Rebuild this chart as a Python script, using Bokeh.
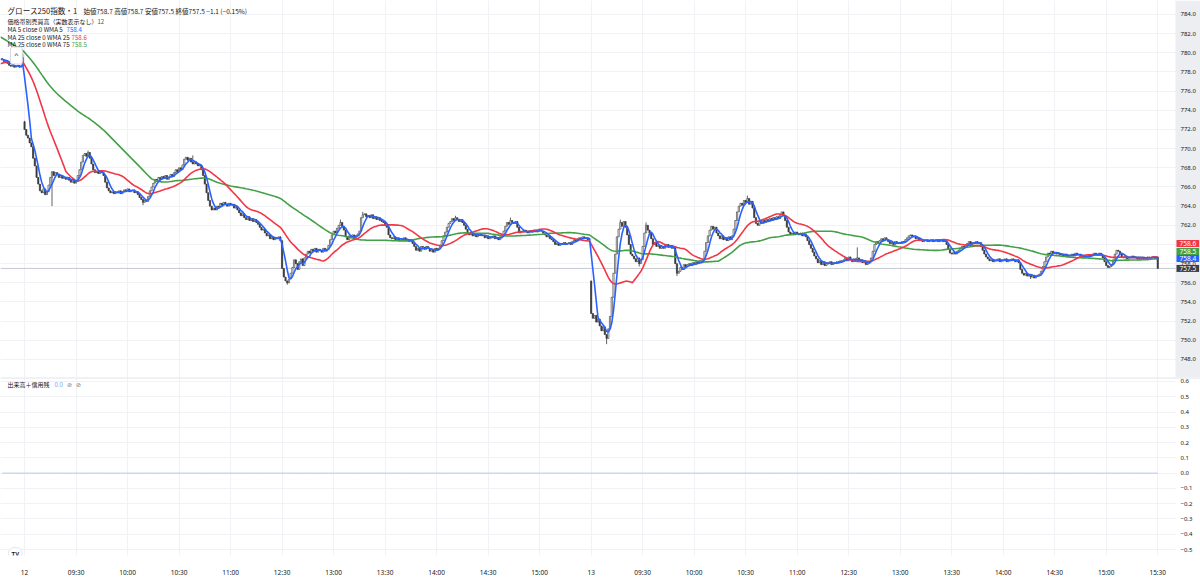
import numpy as np
import pandas as pd
from bokeh.plotting import figure
from bokeh.layouts import column
from bokeh.models import (ColumnDataSource, FixedTicker, Label, Span, Range1d, BoxAnnotation)
from bokeh.embed import file_html
from bokeh.resources import INLINE

# ---------------- data (1-minute closes) ----------------
# previous session (day 11) closes that are not on screen but feed the moving averages
prev_session_closes = [
    787.2, 787.0, 787.4, 787.1, 786.8, 787.0, 787.3, 786.9, 787.1, 786.8, 787.0, 786.6, 786.9,
    786.5, 786.7, 786.2, 786.4, 786.0, 785.8, 786.1, 785.6, 785.3, 785.5, 785.0, 784.8, 784.5, 784.6, 784.2,
    783.5, 782.8, 782.2, 781.5, 780.8, 780.0, 779.3, 778.8, 778.3, 778.0,
    777.8, 777.6, 777.9, 777.5, 777.7, 777.4, 777.8, 777.6, 777.9, 778.1,
    777.8, 778.0, 777.7, 778.1, 778.3, 778.0, 778.2, 778.4, 778.2, 778.5,
    778.7, 778.9, 779.2, 779.0, 779.3, 779.1, 779.4, 779.2, 779.0, 779.3,
    779.1, 779.4, 779.2, 779.5, 779.3, 779.1, 779.4,
]
day11_tail_closes = [779.3, 779.1, 779.2, 778.9, 778.7, 778.6, 778.7, 778.5, 778.6, 778.7, 778.5, 778.6, 779.5]
day12_am_closes = [
    772.0, 771.4, 771.1, 770.6, 770.2, 769.0, 768.2, 767.0, 766.3, 765.6,
    765.4, 765.8, 765.2, 765.5, 766.2, 767.0, 767.6, 767.2, 767.5, 767.3,
    767.0, 767.2, 766.9, 767.0, 766.8, 767.0, 766.7, 766.5, 766.8, 766.4,
    766.6, 767.2, 767.8, 768.6, 769.3, 769.5, 769.2, 769.6, 769.0, 768.4,
    767.8, 767.5, 767.6, 767.4, 767.7, 767.5, 767.2, 766.5, 765.9, 765.6,
    765.4, 765.5, 765.3, 765.5, 765.4, 765.6, 765.3, 765.5, 765.7, 765.6,
    765.8, 765.5, 765.6, 765.7, 765.4, 765.5, 765.2, 764.9, 764.7, 764.4,
    764.6, 764.5, 765.0, 765.6, 766.0, 766.4, 766.8, 766.6, 767.0, 766.8,
    767.1, 766.9, 767.2, 766.8, 767.0, 767.3, 767.1, 767.5, 767.8, 767.6,
    768.0, 767.8, 768.3, 768.9, 769.1, 768.8, 769.0, 768.6, 768.4, 768.6,
    768.4, 768.2, 768.3, 767.8, 767.2, 766.3, 765.4, 764.6, 764.0, 763.6,
    763.8, 763.6, 764.0, 763.9, 764.3, 764.1, 764.4, 764.2, 764.0, 764.3,
    764.1, 764.2, 763.8, 764.0, 763.6, 763.3, 763.0, 763.2, 762.8, 762.6,
    762.9, 762.5, 762.7, 762.4, 762.6, 762.3, 762.1, 761.8, 761.5, 761.6,
    761.2, 760.9, 761.0, 760.6, 760.8, 760.5, 760.7, 760.6, 760.8, 760.4,
]
day12_pm_closes = [
    757.5, 756.6, 756.2, 756.0, 756.4, 757.0, 757.6, 758.4, 758.0, 757.4,
    758.2, 758.5, 757.8, 758.6, 759.0, 759.3, 759.1, 759.5, 759.3, 759.6,
    759.2, 759.5, 759.4, 759.2, 759.6, 759.3, 759.5, 759.9, 760.5, 761.0,
    761.4, 761.2, 761.7, 762.0, 762.3, 761.9, 761.5, 760.8, 760.5, 760.9,
    760.8, 761.0, 760.7, 760.9, 761.1, 761.4, 762.8, 763.1, 763.2, 762.9,
    763.0, 762.8, 763.1, 762.7, 762.9, 762.6, 762.8, 762.5, 762.4, 762.3,
    762.0, 761.8, 761.0, 760.7, 760.6, 760.8, 760.5, 760.7, 760.4, 760.6,
    760.5, 760.7, 760.4, 760.5, 760.3, 760.5, 760.1, 759.8, 759.4, 759.6,
    759.3, 759.8, 759.7, 759.5, 759.8, 759.6, 759.3, 759.5, 759.2, 759.6,
    759.4, 759.6, 759.9, 760.4, 760.9, 761.3, 761.8, 762.2, 762.4, 762.7,
    762.5, 762.8, 762.6, 762.4, 762.6, 762.3, 762.0, 761.6, 761.2, 761.0,
    761.2, 760.9, 761.1, 760.8, 761.0, 761.1, 760.9, 761.0, 760.7, 760.9,
    760.6, 760.8, 760.7, 760.9, 760.6, 760.7, 760.5, 760.8, 761.0, 761.4,
    761.9, 762.3, 762.1, 762.5, 762.3, 762.2, 762.4, 761.8, 761.2, 761.4,
    761.3, 761.5, 761.3, 761.2, 761.4, 761.3, 761.4, 761.5, 761.3, 761.4,
    761.6, 761.4, 761.2, 761.0, 760.8, 760.9, 760.6, 760.5, 760.3, 760.0,
    760.1, 759.9, 760.1, 760.0, 760.2, 760.0, 760.1, 760.2, 760.0, 760.3,
    760.5, 760.4, 760.6, 760.7, 760.6, 760.8, 760.6, 760.7, 760.5, 760.6,
]
day13_am_closes = [
    752.8, 752.3, 752.6, 751.9, 752.2, 751.5, 751.0, 751.4, 750.6, 750.2,
    751.2, 752.5, 754.5, 757.0, 759.0, 760.8, 761.6, 762.3, 761.9, 762.4,
    761.8, 761.0, 760.0, 759.0, 758.8, 758.5, 758.2, 758.6, 758.0, 758.4,
    759.8, 761.2, 762.0, 761.5, 761.2, 760.6, 760.0, 760.2, 759.8, 759.9,
    759.6, 759.8, 759.6, 759.9, 760.0, 759.7, 759.9, 759.6, 759.8, 758.0,
    757.0, 757.2, 757.6, 757.4, 757.9, 757.7, 757.9, 758.0, 757.8, 758.1,
    757.9, 758.2, 758.0, 758.3, 758.1, 758.4, 759.3, 760.2, 760.9, 761.5,
    761.9, 761.6, 761.8, 761.2, 760.9, 760.6, 760.9, 760.5, 760.7, 760.4,
    760.8, 760.5, 760.9, 761.6, 762.5, 763.4, 764.0, 764.3, 764.1, 764.6,
    764.4, 764.8, 764.2, 764.5, 763.8, 762.8, 762.2, 762.0, 762.4, 762.2,
    762.5, 762.3, 762.6, 762.4, 762.7, 762.5, 762.8, 762.6, 762.9, 762.7,
    763.1, 763.4, 763.0, 762.5, 761.8, 761.3, 761.0, 761.2, 761.0, 761.3,
    761.1, 761.0, 761.2, 760.9, 761.1, 760.8, 760.4, 760.0, 759.6, 759.2,
    758.8, 758.5, 758.1, 758.3, 757.9, 758.2, 757.8, 758.1, 758.0, 758.2,
    757.9, 758.1, 758.0, 758.2, 758.1, 758.3, 758.2, 758.4, 758.6, 758.3,
]
day13_pm_closes = [
    758.7, 758.4, 758.2, 758.5, 758.3, 758.6, 758.2, 758.4, 758.1, 758.3,
    757.9, 758.0, 758.2, 758.6, 759.3, 760.0, 760.3, 760.1, 760.4, 760.6,
    760.4, 760.7, 760.5, 760.3, 760.1, 760.2, 760.0, 760.3, 760.1, 760.2,
    760.1, 760.3, 760.2, 760.5, 760.7, 760.9, 761.0, 760.8, 760.9, 760.6,
    760.7, 760.4, 760.5, 760.3, 760.4, 760.5, 760.3, 760.4, 760.5, 760.3,
    760.4, 760.5, 760.3, 760.4, 760.5, 760.3, 760.4, 760.0, 759.5, 759.1,
    759.0, 759.2, 759.0, 759.3, 759.4, 759.6, 759.8, 759.7, 760.0, 760.1,
    760.3, 760.0, 760.2, 760.1, 760.3, 760.1, 760.2, 759.8, 759.4, 759.0,
    758.7, 758.5, 758.3, 758.4, 758.2, 758.4, 758.3, 758.5, 758.2, 758.4,
    758.3, 758.5, 758.2, 758.4, 758.3, 758.5, 758.4, 758.2, 758.4, 758.1,
    757.4, 757.0, 756.8, 757.0, 756.7, 756.9, 756.6, 756.8, 756.5, 756.7,
    756.8, 756.9, 757.2, 757.7, 758.2, 758.7, 759.1, 759.0, 759.3, 759.1,
    759.2, 759.0, 759.1, 758.9, 759.0, 758.8, 759.0, 758.7, 758.9, 758.8,
    759.0, 758.8, 759.1, 758.9, 759.0, 758.7, 758.8, 758.6, 758.8, 758.7,
    758.9, 758.8, 759.0, 759.1, 758.9, 759.0, 759.1, 758.9, 758.6, 758.2,
    757.8, 757.6, 757.7, 757.9, 758.4, 759.0, 759.4, 759.3, 759.0, 758.7,
    758.6, 758.8, 758.5, 758.7, 758.6, 758.8, 758.6, 758.7, 758.5, 758.7,
    758.6, 758.7, 758.5, 758.6, 758.7, 758.6, 758.6, 758.7, 758.6, 758.7,
    757.5,
]
# session opening prices (gaps) keyed by bar index (0 = day 12 09:00)
session_gap_opens = {0: 772.8, 330: 756.2}
# notable wick extremes keyed by bar index
wick_highs = {-1: 779.9, 0: 772.9, 37: 769.8, 98: 769.3, 184: 762.6, 197: 763.4, 251: 763.0,
              283: 762.8, 347: 762.6, 362: 762.3, 421: 765.1, 485: 759.7}
wick_lows = {16: 764.0, 69: 764.1, 153: 755.8, 339: 749.6, 358: 757.7, 380: 756.7, 586: 756.4}

ma_lengths = [5, 25, 75]
ma_labels = ["MA 5 close 0 WMA 5", "MA 25 close 0 WMA 25", "MA 25 close 0 WMA 75"]
ma_last_values = ["758.4", "758.6", "758.5"]
ma_colors = ["#2962ff", "#f23645", "#43a047"]

symbol_title = "グロース250指数・1"
ohlc_status = "始値758.7  高値758.7  安値757.5  終値757.5  −1.1 (−0.15%)"
vp_label = "価格帯別売買高（実数表示なし）"
vp_param = "12"
volume_label = "出来高＋信用残"
volume_value_text = "0.0"

time_tick_positions = [0, 30, 60, 90, 120, 150, 180, 210, 240, 270, 300,
                       330, 360, 390, 420, 450, 480, 510, 540, 570, 600, 630, 660]
time_tick_labels = ["12", "09:30", "10:00", "10:30", "11:00", "12:30", "13:00", "13:30", "14:00", "14:30", "15:00",
                    "13", "09:30", "10:00", "10:30", "11:00", "12:30", "13:00", "13:30", "14:00", "14:30", "15:00", "15:30"]
price_ticks = [748, 750, 752, 754, 756, 758, 760, 762, 764, 766, 768, 770, 772, 774, 776, 778, 780, 782, 784]
volume_ticks = [-0.5, -0.4, -0.3, -0.2, -0.1, 0.0, 0.1, 0.2, 0.3, 0.4, 0.5, 0.6]

# ---------------- derived series ----------------
closes = np.array(prev_session_closes + day11_tail_closes + day12_am_closes +
                  day12_pm_closes + day13_am_closes + day13_pm_closes, dtype=float)
first_idx = -(len(prev_session_closes) + len(day11_tail_closes))
idx = np.arange(len(closes)) + first_idx
opens = np.empty_like(closes)
opens[0] = closes[0]
opens[1:] = closes[:-1]
for k, v in session_gap_opens.items():
    opens[idx == k] = v
highs = np.maximum(opens, closes)
lows = np.minimum(opens, closes)
for k, v in wick_highs.items():
    m = idx == k
    highs[m] = np.maximum(highs[m], v)
for k, v in wick_lows.items():
    m = idx == k
    lows[m] = np.minimum(lows[m], v)

mas = [pd.Series(closes).rolling(n).mean().to_numpy() for n in ma_lengths]
drawn = idx >= -len(day11_tail_closes)
line_mask = idx >= -14
volume_values = [0.0] * int(drawn.sum())

# ---------------- layout ----------------
W = 1200
H_MAIN, H_LOW, BOTTOM = 377, 204, 26
FR_MAIN = H_MAIN
FR_LOW = H_LOW - BOTTOM
PX_PER_BAR = 1.717
X0 = -14.0
SCALE_X = X0 + 1175 / PX_PER_BAR       # left edge of the price scale (data units)
X1 = X0 + W / PX_PER_BAR
JP = "Noto Sans CJK JP"
TXT = "#131722"
GRID = "#f0f2f5"

x_range = Range1d(X0, X1)


def base_fig(height, y_range, bottom):
    f = figure(width=W, height=height, x_range=x_range, y_range=y_range,
               output_backend="svg", toolbar_location=None, tools="",
               x_axis_location="below" if bottom else None, y_axis_location=None,
               min_border_left=0, min_border_top=0, min_border_bottom=bottom, min_border_right=0,
               background_fill_color="white", border_fill_color="white", outline_line_color=None)
    f.xgrid.ticker = FixedTicker(ticks=time_tick_positions)
    f.xgrid.grid_line_color = GRID
    return f


main = base_fig(H_MAIN, Range1d(746.12, 785.46), 0)
main.ygrid.ticker = FixedTicker(ticks=price_ticks)
main.ygrid.grid_line_color = GRID

last_line = Span(location=float(closes[-1]), dimension="width", line_color="#c6c9d1", line_width=1)
last_line.level = "underlay"
main.add_layout(last_line)

src_all = ColumnDataSource(dict(x=idx[drawn], high=highs[drawn], low=lows[drawn]))
main.segment(x0="x", y0="low", x1="x", y1="high", source=src_all, line_color="#3a3a3a", line_width=0.8)
up = drawn & (closes >= opens)
dn = drawn & (closes < opens)
src_up = ColumnDataSource(dict(x=idx[up], top=closes[up], bottom=opens[up]))
src_dn = ColumnDataSource(dict(x=idx[dn], top=opens[dn], bottom=closes[dn]))
main.vbar(x="x", width=0.75, top="top", bottom="bottom", source=src_up,
          fill_color="white", line_color="#3a3a3a", line_width=0.6)
main.vbar(x="x", width=0.75, top="top", bottom="bottom", source=src_dn,
          fill_color="#3a3a3a", line_color="#3a3a3a", line_width=0.6)

for ma, col in list(zip(mas, ma_colors))[::-1]:
    main.line(idx[line_mask], ma[line_mask], line_color=col, line_width=1.6)

# price scale (drawn inside the frame on the right)
main.add_layout(BoxAnnotation(left=SCALE_X, fill_color="#eceef2", fill_alpha=1.0, line_color=None))
for t in price_ticks:
    main.add_layout(Label(x=SCALE_X, y=t, x_offset=5, text=f"{t:.1f}", text_font_size="6px",
                          text_font="Noto Sans", text_color=TXT, text_align="left", text_baseline="middle"))

badge_vals = [ma_last_values[1], ma_last_values[2], ma_last_values[0], f"{closes[-1]:.1f}"]
badge_cols = [ma_colors[1], ma_colors[2], ma_colors[0], "#3c3f48"]
badge_offsets = [14.5, 7.3, 1.3, 0]
for val, col, off in zip(badge_vals, badge_cols, badge_offsets):
    main.add_layout(Label(x=SCALE_X, y=float(val), x_offset=1, y_offset=off,
                          text=val, text_color="white", text_font_size="6.5px", text_font="Noto Sans",
                          text_align="left", text_baseline="middle", background_fill_color=col,
                          padding=(3, 1)))


def add_text(fig, frame_h, x, t, text, size, color, font=JP):
    fig.add_layout(Label(x=x, y=frame_h - t, x_units="screen", y_units="screen", text=text,
                         text_font_size=f"{size}px", text_color=color, text_font=font,
                         text_align="left", text_baseline="middle"))


add_text(main, FR_MAIN, 7, 10, symbol_title, 7.6, TXT)
add_text(main, FR_MAIN, 83, 10.3, ohlc_status, 6.5, TXT)
add_text(main, FR_MAIN, 7, 21, vp_label, 6, TXT)
add_text(main, FR_MAIN, 97, 21, vp_param, 6, "#50535e")
value_x = [66, 71, 71]
for i, (lab, val, col) in enumerate(zip(ma_labels, ma_last_values, ma_colors)):
    t = 29.2 + i * 7.6
    add_text(main, FR_MAIN, 7, t, lab, 6.2, TXT)
    add_text(main, FR_MAIN, value_x[i], t, val, 6.2, col)

main.add_layout(Label(x=10, y=FR_MAIN - 55, x_units="screen", y_units="screen", text="^",
                      text_font_size="8px", text_color=TXT, text_align="left", text_baseline="middle",
                      background_fill_color="white", border_line_color="#d6d9e0", padding=4,
                      border_radius=2))

# ---------------- lower (volume) pane ----------------
low = base_fig(H_LOW, Range1d(-0.539, 0.626), BOTTOM)
low.ygrid.ticker = FixedTicker(ticks=volume_ticks)
low.ygrid.grid_line_color = GRID

xa = low.xaxis[0]
xa.ticker = FixedTicker(ticks=time_tick_positions)
xa.major_label_overrides = {p: l for p, l in zip(time_tick_positions, time_tick_labels)}
xa.axis_line_color = None
xa.major_tick_line_color = None
xa.minor_tick_line_color = None
xa.major_tick_out = 0
xa.major_tick_in = 0
xa.major_label_standoff = 12
xa.major_label_text_font_size = "6.5px"
xa.major_label_text_color = TXT
xa.major_label_text_font = "Noto Sans"

low.line(idx[drawn], volume_values, line_color="#a9c9f5", line_width=1)

low.add_layout(BoxAnnotation(left=SCALE_X, fill_color="white", fill_alpha=1.0, line_color=None))
for t in volume_ticks:
    s = f"{abs(t):.1f}"
    txt = ("−" + s) if t < 0 else s
    low.add_layout(Label(x=SCALE_X, y=t, x_offset=5, text=txt, text_font_size="6px",
                         text_font="Noto Sans", text_color=TXT, text_align="left", text_baseline="middle"))

sep = Span(location=0.626, dimension="width", line_color="#e0e3eb", line_width=2)
low.add_layout(sep)

add_text(low, FR_LOW, 7, 7, volume_label, 6, TXT)
add_text(low, FR_LOW, 54, 7, volume_value_text, 6, "#6ea6f5")
add_text(low, FR_LOW, 66.5, 7, "⊘", 6, "#787b86", font="DejaVu Sans")
add_text(low, FR_LOW, 75.5, 7, "⊘", 6, "#787b86", font="DejaVu Sans")

low.add_layout(Label(x=8, y=FR_LOW - 176, x_units="screen", y_units="screen", text="TV",
                     text_font_size="6px", text_font_style="bold", text_color="#131722",
                     text_align="left", text_baseline="middle",
                     background_fill_color="white", border_line_color="#e0e3eb", padding=3,
                     border_radius=7))

layout = column(main, low, spacing=0)
open("out.html", "w").write(file_html(layout, INLINE))
